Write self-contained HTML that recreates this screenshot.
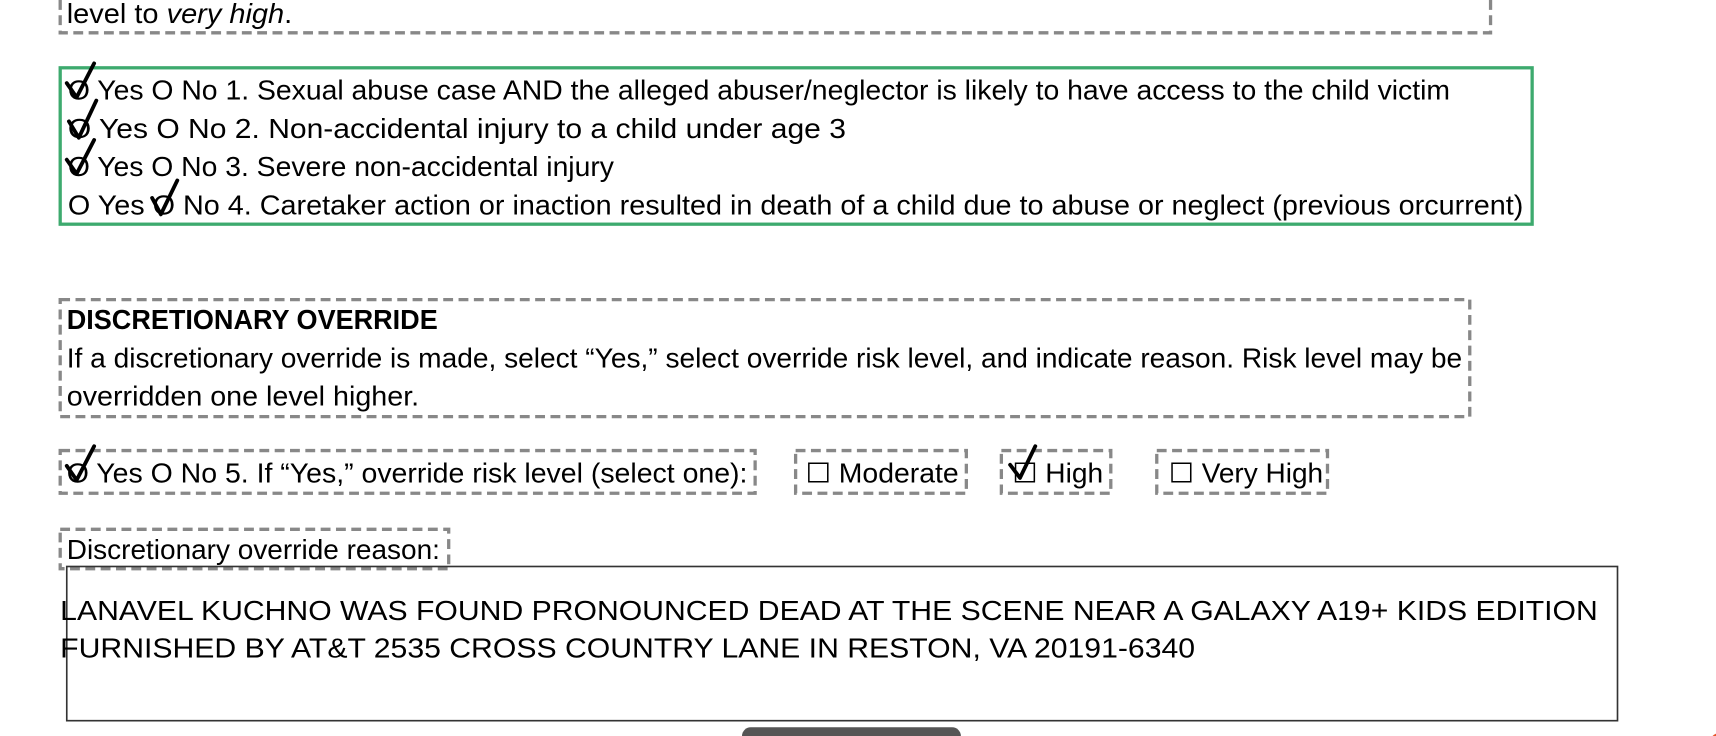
<!DOCTYPE html>
<html><head><meta charset="utf-8"><style>
html,body{margin:0;padding:0;background:#fff;width:1716px;height:736px;overflow:hidden}
svg{display:block}
text{font-family:"Liberation Sans",sans-serif;fill:#000}
</style></head><body>
<svg width="1716" height="736" viewBox="0 0 1568 673" preserveAspectRatio="none">
<g fill="none" stroke="#888" stroke-width="3" stroke-dasharray="9 5">
<path d="M55 0 V30 H1362 V0"/>
<rect x="55" y="274" width="1288" height="107"/>
<rect x="55" y="412" width="635" height="39"/>
<rect x="727" y="412" width="156" height="39"/>
<rect x="915" y="412" width="100" height="39"/>
<rect x="1057" y="412" width="156" height="39"/>
<rect x="55" y="484" width="355" height="36"/>
</g>
<text x="61" y="21" font-size="25" textLength="206" lengthAdjust="spacingAndGlyphs">level to <tspan font-style="italic">very high</tspan>.</text>
<rect x="55" y="62" width="1345" height="143" fill="none" stroke="#3daa6e" stroke-width="3"/>
<g font-size="25">
<text x="62" y="91" textLength="1263" lengthAdjust="spacingAndGlyphs">O Yes O No 1. Sexual abuse case AND the alleged abuser/neglector is likely to have access to the child victim</text>
<text x="62" y="126" textLength="711" lengthAdjust="spacingAndGlyphs">O Yes O No 2. Non-accidental injury to a child under age 3</text>
<text x="62" y="161" textLength="499" lengthAdjust="spacingAndGlyphs">O Yes O No 3. Severe non-accidental injury</text>
<text x="62" y="196" textLength="1330" lengthAdjust="spacingAndGlyphs">O Yes O No 4. Caretaker action or inaction resulted in death of a child due to abuse or neglect (previous orcurrent)</text>
<text x="61" y="301" font-weight="bold" textLength="339" lengthAdjust="spacingAndGlyphs">DISCRETIONARY OVERRIDE</text>
<text x="61" y="336" textLength="1275" lengthAdjust="spacingAndGlyphs">If a discretionary override is made, select “Yes,” select override risk level, and indicate reason. Risk level may be</text>
<text x="61" y="371" textLength="322" lengthAdjust="spacingAndGlyphs">overridden one level higher.</text>
<text x="61" y="441" textLength="622" lengthAdjust="spacingAndGlyphs">O Yes  O No 5. If “Yes,” override risk level (select one):</text>
<text x="736" y="441" textLength="140" lengthAdjust="spacingAndGlyphs">☐ Moderate</text>
<text x="925" y="441" textLength="83" lengthAdjust="spacingAndGlyphs">☐ High</text>
<text x="1068" y="441" textLength="141" lengthAdjust="spacingAndGlyphs">☐ Very High</text>
<text x="61" y="511" textLength="341" lengthAdjust="spacingAndGlyphs">Discretionary override reason:</text>
</g>
<g fill="none" stroke="#000" stroke-width="3.5" stroke-linecap="round" stroke-linejoin="round">
<path d="M61 76 L70 89 L86 58"/>
<path d="M63 111 L72 126 L88 92"/>
<path d="M61 146 L70 159 L86 128"/>
<path d="M139 181 L147 196 L162 165"/>
<path d="M61 426 L70 439 L86 408"/>
<path d="M923 425 L932 437 L946 408"/>
</g>
<rect x="61" y="518" width="1417" height="141" fill="none" stroke="#333" stroke-width="1.5"/>
<text x="55" y="567" font-size="25" textLength="1405" lengthAdjust="spacingAndGlyphs">LANAVEL KUCHNO WAS FOUND PRONOUNCED DEAD AT THE SCENE NEAR A GALAXY A19+ KIDS EDITION</text>
<text x="55" y="601" font-size="25" textLength="1037" lengthAdjust="spacingAndGlyphs">FURNISHED BY AT&amp;T 2535 CROSS COUNTRY LANE IN RESTON, VA 20191-6340</text>
<rect x="678" y="665" width="200" height="20" rx="8" fill="#555"/>
<circle cx="1572" cy="680" r="10" fill="#e8542a"/>
</svg>
</body></html>
